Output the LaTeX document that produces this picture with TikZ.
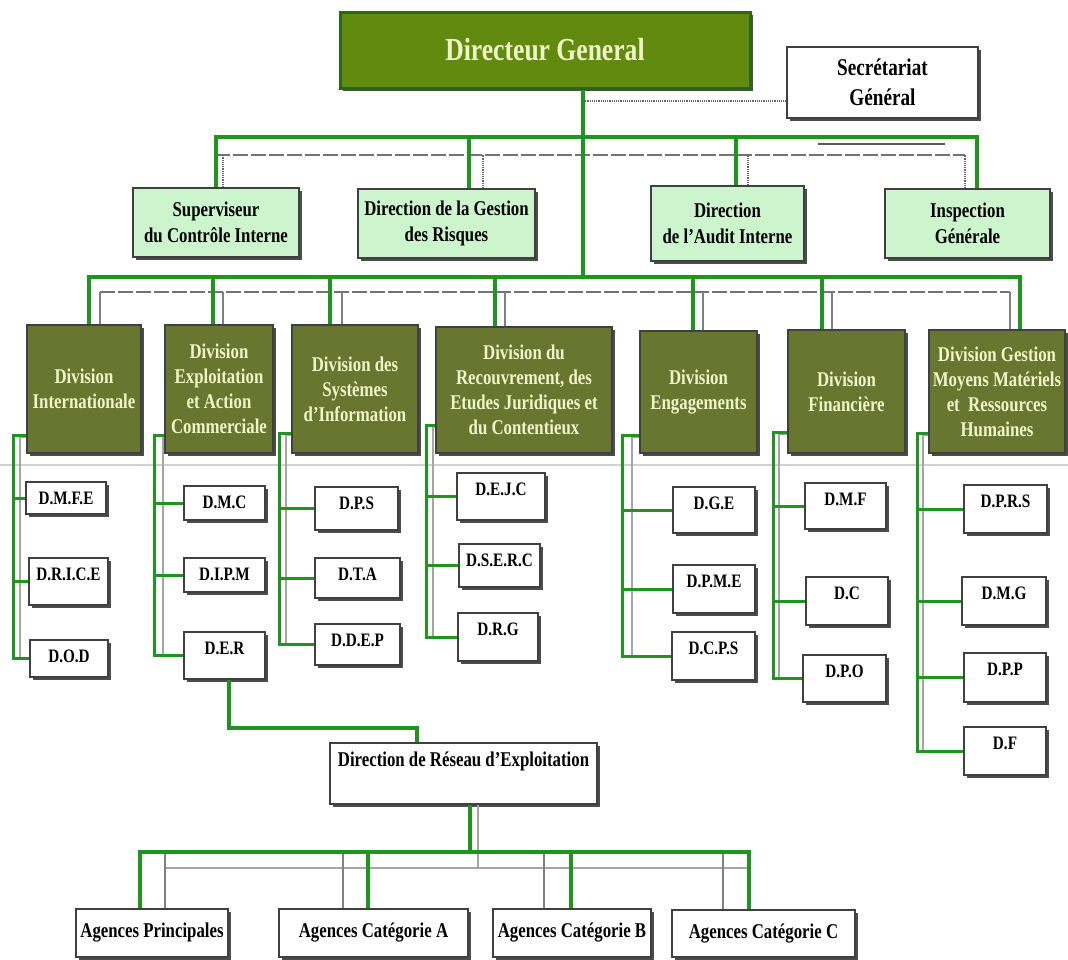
\documentclass[tikz,border=0pt]{standalone}
\usepackage{fontspec}
\usepackage{tikz}
\usetikzlibrary{shadows,backgrounds,calc}
\newfontfamily\orgfont{Liberation Serif}[FakeStretch=0.8]
\definecolor{dgolive}{RGB}{98,138,14}
\definecolor{dgedge}{RGB}{40,105,20}
\definecolor{divolive}{RGB}{104,118,48}
\definecolor{cream}{RGB}{240,245,200}
\definecolor{staffgreen}{RGB}{205,245,205}
\definecolor{linkgreen}{RGB}{30,150,30}
\definecolor{linkgray}{RGB}{165,165,165}
\newcommand{\fs}[2]{\fontsize{#1}{#2}\selectfont}

\begin{document}
\begin{tikzpicture}[x=1pt,y=-1pt,
  box/.style={draw=black!75,line width=1.5pt,align=center,inner sep=2pt,
    drop shadow={shadow xshift=3pt,shadow yshift=-3pt,fill=black!70,opacity=1},
    font=\orgfont\bfseries\fs{21}{25}},
  sz/.style 2 args={minimum width=#1pt,minimum height=#2pt},
  dgbox/.style={box,fill=dgolive,draw=dgedge,line width=3pt,text=cream,font=\orgfont\bfseries\fs{32}{36}},
  secbox/.style={box,fill=white,font=\orgfont\bfseries\fs{24}{30}},
  staffbox/.style={box,fill=staffgreen,font=\orgfont\bfseries\fs{21}{26}},
  divbox/.style={box,fill=divolive,text=cream},
  subbox/.style 2 args={box,fill=white,inner xsep=2pt,inner ysep=9.5pt,text height=13pt,text depth=#2pt,
    minimum width=#1pt,font=\orgfont\bfseries\fs{19}{22}},
  agbox/.style={box,fill=white},
  gline/.style={draw=linkgreen,line width=3.5pt},
  gbranch/.style={draw=linkgreen,line width=3pt},
  grayline/.style={draw=linkgray,line width=1.5pt},
  grayrule/.style={draw=black!50,line width=1.5pt},
  graydash/.style={draw=black!55,line width=1.5pt,dash pattern=on 15pt off 3pt},
  dotline/.style={draw=black!60,line width=1.2pt,densely dotted}]
  \useasboundingbox (0,0) rectangle (1068,959);
  \begin{scope}[on background layer]
    \fill[white] (0,0) rectangle (1068,959);
    \draw[black!18,line width=1.2pt] (0,465) -- (1068,465);
  \end{scope}

  \coordinate (bus1) at (0,137); \coordinate (row1) at (0,155);
  \coordinate (bus2) at (0,277); \coordinate (row2) at (0,292);
  \coordinate (bus3) at (0,852); \coordinate (row3) at (0,868);

  \node[dgbox,sz={410}{76}] (dg) at (545,50) {Directeur General};
  \node[secbox,sz={191}{71}] (sec) at (882.5,82.5) {Secrétariat\\Général};

  \node[staffbox,sz={166}{69}] (sup) at (216,222.5) {Superviseur\\du Contrôle Interne};
  \node[staffbox,sz={177}{69}] (risq) at (446.5,223.5) {Direction de la Gestion\\des Risques};
  \node[staffbox,sz={153}{75}] (audit) at (727.5,223.5) {Direction\\de l’Audit Interne};
  \node[staffbox,sz={165}{69}] (insp) at (967.5,223.5) {Inspection\\Générale};

  \node[divbox,sz={114}{128}] (dint) at (84,389) {Division\\Internationale};
  \node[divbox,sz={108}{128}] (dexp) at (219,389) {Division\\Exploitation\\et Action\\Commerciale};
  \node[divbox,sz={126}{128}] (dsys) at (355,389) {Division des\\Systèmes\\d’Information};
  \node[divbox,sz={176}{126}] (drec) at (524,390) {Division du\\Recouvrement, des\\Etudes Juridiques et\\du Contentieux};
  \node[divbox,sz={117}{122}] (deng) at (698.5,392) {Division\\Engagements};
  \node[divbox,sz={117}{123}] (dfin) at (846.5,391.5) {Division\\Financière};
  \node[divbox,sz={136}{123}] (dges) at (997,391.5) {Division Gestion\\Moyens Matériels\\et\ \ Ressources\\Humaines};

  \node[subbox={80}{0}] (dmfe) at (66,498) {D.M.F.E};
  \node[subbox={79}{15}] (drice) at (68.5,581.5) {D.R.I.C.E};
  \node[subbox={78}{5}] (dod) at (69,658.5) {D.O.D};
  \node[subbox={81}{2}] (dmc) at (224.5,503) {D.M.C};
  \node[subbox={81}{2}] (dipm) at (224.5,575) {D.I.P.M};
  \node[subbox={81}{15}] (der) at (224.5,655.5) {D.E.R};
  \node[subbox={83}{11}] (dps) at (356.5,508.5) {D.P.S};
  \node[subbox={85}{8}] (dta) at (357.5,578) {D.T.A};
  \node[subbox={85}{9}] (ddep) at (357.5,644.5) {D.D.E.P};
  \node[subbox={88}{15}] (dejc) at (501,496.5) {D.E.J.C};
  \node[subbox={81}{11}] (dserc) at (499.5,565.5) {D.S.E.R.C};
  \node[subbox={80}{16}] (drg) at (498,637) {D.R.G};
  \node[subbox={82}{14}] (dge) at (714,510) {D.G.E};
  \node[subbox={82}{16}] (dpme) at (714,589) {D.P.M.E};
  \node[subbox={83}{16}] (dcps) at (713.5,656) {D.C.P.S};
  \node[subbox={81}{14}] (dmf) at (845.5,506) {D.M.F};
  \node[subbox={82}{16}] (dc) at (847,601) {D.C};
  \node[subbox={83}{15}] (dpo) at (844.5,678.5) {D.P.O};
  \node[subbox={83}{16}] (dprs) at (1005.5,509) {D.P.R.S};
  \node[subbox={84}{16}] (dmg) at (1004,601) {D.M.G};
  \node[subbox={82}{17}] (dpp) at (1005,677.5) {D.P.P};
  \node[subbox={82}{16}] (df) at (1005,751) {D.F};

  \node[agbox,sz={267}{61},inner ysep=8pt,text height=15pt,text depth=30pt] (res) at (463.5,773.5) {Direction de Réseau d’Exploitation};
  \node[agbox,sz={152}{48}] (agp) at (152,933) {Agences Principales};
  \node[agbox,sz={189}{48}] (aga) at (373.5,933) {Agences Catégorie A};
  \node[agbox,sz={158}{48}] (agb) at (572,933) {Agences Catégorie B};
  \node[agbox,sz={183}{47}] (agc) at (763.5,933.5) {Agences Catégorie C};

  % direction generale et rattachements
  \draw[dotline] ([xshift=38pt]dg.south |- 0,101) -- (sec.west |- 0,101);
  \draw[graydash] ([xshift=-1pt]sup.north |- row1) -- ([xshift=-2.5pt]insp.north |- row1);
  \draw[dotline] ([xshift=7pt]sup.north) -- ([xshift=7pt]sup.north |- row1);
  \draw[dotline] ([xshift=36.5pt]risq.north) -- ([xshift=36.5pt]risq.north |- row1);
  \draw[dotline] ([xshift=20.5pt]audit.north) -- ([xshift=20.5pt]audit.north |- row1);
  \draw[dotline] ([xshift=-2.5pt]insp.north) -- ([xshift=-2.5pt]insp.north |- row1);
  \draw[black!65,line width=2pt] (818,144) -- (945,144);
  \draw[gline] ([xshift=38pt]dg.south) -- ([xshift=38pt]dg.south |- bus2);
  \draw[gline] (sup.north) -- (sup.north |- bus1) -| ([xshift=9.5pt]insp.north);
  \draw[gline] ([xshift=22.5pt]risq.north) -- ([xshift=22.5pt]risq.north |- bus1);
  \draw[gline] ([xshift=8.5pt]audit.north) -- ([xshift=8.5pt]audit.north |- bus1);

  % divisions
  \draw[graydash] ([xshift=16pt]dint.north |- row2) -- ([xshift=13pt]dges.north |- row2);
  \draw[grayrule] ([xshift=16pt]dint.north) -- ([xshift=16pt]dint.north |- row2);
  \draw[grayrule] ([xshift=4pt]dexp.north) -- ([xshift=4pt]dexp.north |- row2);
  \draw[grayrule] ([xshift=-13pt]dsys.north) -- ([xshift=-13pt]dsys.north |- row2);
  \draw[grayrule] ([xshift=-19pt]drec.north) -- ([xshift=-19pt]drec.north |- row2);
  \draw[grayrule] ([xshift=4.5pt]deng.north) -- ([xshift=4.5pt]deng.north |- row2);
  \draw[grayrule] ([xshift=-14.5pt]dfin.north) -- ([xshift=-14.5pt]dfin.north |- row2);
  \draw[grayrule] ([xshift=13pt]dges.north) -- ([xshift=13pt]dges.north |- row2);
  \draw[gline] ([xshift=5pt]dint.north) -- ([xshift=5pt]dint.north |- bus2) -| ([xshift=23pt]dges.north);
  \draw[gline] ([xshift=-6pt]dexp.north) -- ([xshift=-6pt]dexp.north |- bus2);
  \draw[gline] ([xshift=-25pt]dsys.north) -- ([xshift=-25pt]dsys.north |- bus2);
  \draw[gline] ([xshift=-29pt]drec.north) -- ([xshift=-29pt]drec.north |- bus2);
  \draw[gline] ([xshift=-5.5pt]deng.north) -- ([xshift=-5.5pt]deng.north |- bus2);
  \draw[gline] ([xshift=-24.5pt]dfin.north) -- ([xshift=-24.5pt]dfin.north |- bus2);

  % directions rattachees
  \draw[grayline] (dint.west |- 0,437) -| (20,0 |- dod.west);
  \draw[gbranch] (dint.west |- 0,435) -| (13,0 |- dod.west) -- (dod.west);
  \draw[gbranch] (13,0 |- dmfe.west) -- (dmfe.west);
  \draw[gbranch] (13,0 |- drice.west) -- (drice.west);

  \draw[grayline] (dexp.west |- 0,437) -| (163,0 |- der.west);
  \draw[gbranch] (dexp.west |- 0,435) -| (154,0 |- der.west) -- (der.west);
  \draw[gbranch] (154,0 |- dmc.west) -- (dmc.west);
  \draw[gbranch] (154,0 |- dipm.west) -- (dipm.west);

  \draw[grayline] (dsys.west |- 0,435) -| (286,0 |- ddep.west);
  \draw[gbranch] (dsys.west |- 0,433) -| (279,0 |- ddep.west) -- (ddep.west);
  \draw[gbranch] (279,0 |- dps.west) -- (dps.west);
  \draw[gbranch] (279,0 |- dta.west) -- (dta.west);

  \draw[grayline] (drec.west |- 0,427) -| (433,0 |- drg.west);
  \draw[gbranch] (drec.west |- 0,425) -| (426,0 |- drg.west) -- (drg.west);
  \draw[gbranch] (426,0 |- dejc.west) -- (dejc.west);
  \draw[gbranch] (426,0 |- dserc.west) -- (dserc.west);

  \draw[grayline] (deng.west |- 0,437) -| (632,0 |- dcps.west);
  \draw[gbranch] (deng.west |- 0,435) -| (622,0 |- dcps.west) -- (dcps.west);
  \draw[gbranch] (622,0 |- dge.west) -- (dge.west);
  \draw[gbranch] (622,0 |- dpme.west) -- (dpme.west);

  \draw[grayline] (dfin.west |- 0,434) -| (779,0 |- dpo.west);
  \draw[gbranch] (dfin.west |- 0,432) -| (773,0 |- dpo.west) -- (dpo.west);
  \draw[gbranch] (773,0 |- dmf.west) -- (dmf.west);
  \draw[gbranch] (773,0 |- dc.west) -- (dc.west);

  \draw[grayline] (dges.west |- 0,435) -| (923,0 |- df.west);
  \draw[gbranch] (dges.west |- 0,433) -| (917,0 |- df.west) -- (df.west);
  \draw[gbranch] (917,0 |- dprs.west) -- (dprs.west);
  \draw[gbranch] (917,0 |- dmg.west) -- (dmg.west);
  \draw[gbranch] (917,0 |- dpp.west) -- (dpp.west);

  % reseau et agences
  \draw[gline] ([xshift=4.5pt]der.south) -- ++(0,48) -| ([xshift=-46.5pt]res.north);
  \draw[grayline] ([xshift=14.5pt]res.south) -- ([xshift=14.5pt]res.south |- row3);
  \draw[grayline] ([xshift=13pt]agp.north |- row3) -- ([xshift=-14.5pt]agc.north |- row3);
  \draw[grayrule] ([xshift=13pt]agp.north) -- ([xshift=13pt]agp.north |- bus3);
  \draw[grayrule] ([xshift=-30.5pt]aga.north) -- ([xshift=-30.5pt]aga.north |- bus3);
  \draw[grayrule] ([xshift=-28pt]agb.north) -- ([xshift=-28pt]agb.north |- bus3);
  \draw[grayrule] ([xshift=-40.5pt]agc.north) -- ([xshift=-40.5pt]agc.north |- bus3);
  \draw[gline] ([xshift=6.5pt]res.south) -- ([xshift=6.5pt]res.south |- bus3);
  \draw[gline] ([xshift=-12pt]agp.north) -- ([xshift=-12pt]agp.north |- bus3) -| ([xshift=-14.5pt]agc.north);
  \draw[gline] ([xshift=-5.5pt]aga.north) -- ([xshift=-5.5pt]aga.north |- bus3);
  \draw[gline] ([xshift=-1pt]agb.north) -- ([xshift=-1pt]agb.north |- bus3);
\end{tikzpicture}
\end{document}
